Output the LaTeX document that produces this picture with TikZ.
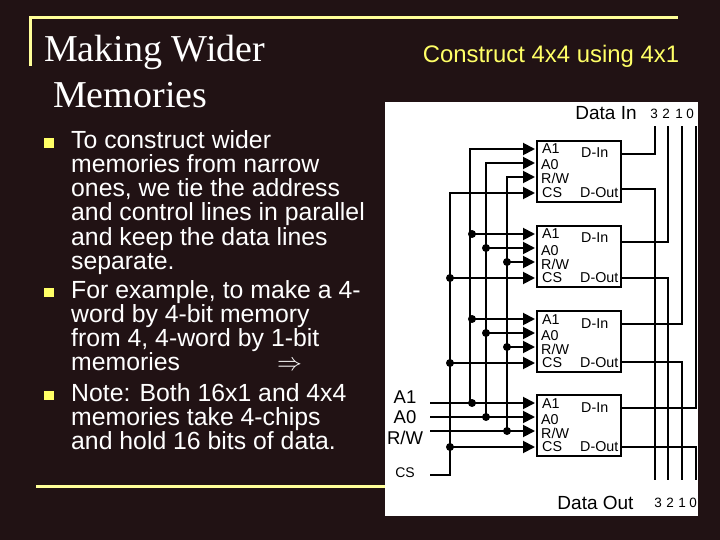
\documentclass[tikz,border=0pt]{standalone}
\usepackage{fontspec}
\usepackage{amsmath}
\usepackage{xcolor}
\setmainfont{Liberation Sans}
\newfontfamily\titlefont{Liberation Serif}
\usetikzlibrary{arrows.meta}

\definecolor{slidebg}{RGB}{33,18,20}
\definecolor{rulecol}{RGB}{255,255,153}
\definecolor{bulletcol}{RGB}{255,255,102}

\newcommand{\fsize}[1]{\fontsize{#1}{#1}\selectfont}

\tikzset{
    wire/.style={line width=1.9pt,black},
    pinwire/.style={wire,-{Triangle[length=12pt,width=12pt]},shorten >=1pt},
    chipbox/.style={draw=black,line width=2pt,fill=white,minimum width=84pt,minimum height=61pt,inner sep=0pt},
    pinlabel/.style={black,inner sep=0pt,anchor=base west,font=\fsize{14.3}},
    wiredot/.style={circle,fill=black,inner sep=0pt,minimum size=8pt},
    biglabel/.style={black,inner sep=0pt,anchor=base,font=\fsize{18.5}},
    bodytext/.style={white,inner sep=0pt,anchor=north west,align=left,font=\fontsize{24.8}{24.1}\selectfont},
    bulletbox/.style={fill=bulletcol,inner sep=0pt,minimum size=9.5pt},
}

\begin{document}
\begin{tikzpicture}[x=1pt,y=-1pt]

    \useasboundingbox (0,0) rectangle (720,540);
    \fill[slidebg] (0,0) rectangle (720,540);

    % slide frame
    \draw[rulecol,line width=3pt] (30,66) -- (30,18) -- (678,18);
    \draw[rulecol,line width=3pt] (36,486) -- (385,486);

    \node[white,inner sep=0pt,anchor=base west,font=\titlefont\fsize{38}] (title1) at (44,62) {Making Wider};
    \node[white,inner sep=0pt,anchor=base west,font=\titlefont\fsize{38}] (title2) at (53,108) {Memories};
    \node[bulletcol,inner sep=0pt,anchor=base,font=\fsize{23.9}] (heading) at (551,63) {Construct 4x4 using 4x1};

    \node[bulletbox] (bul1) at (49,143) {};
    \node[bulletbox] (bul2) at (49,292.5) {};
    \node[bulletbox] (bul3) at (49,395.5) {};
    \node[bodytext] (para1) at (71,130.5) {To construct wider\\memories from narrow\\ones, we tie the address\\and control lines in parallel\\and keep the data lines\\separate.};
    \node[bodytext] (para2) at (71,280) {For example, to make a 4-\\word by 4-bit memory\\from 4, 4-word by 1-bit\\memories\hspace{97pt}$\Rightarrow$};
    \node[bodytext] (para3) at (71,383) {Note: Both 16x1 and 4x4\\memories take 4-chips\\and hold 16 bits of data.};

    \fill[white] (385,102) rectangle (698,516);

    \node[black,inner sep=0pt,anchor=base,font=\fsize{19}] (datain) at (606,120) {Data In};
    \node[black,inner sep=0pt,anchor=base,font=\fsize{19}] (dataout) at (595.5,509) {Data Out};

    % address and control inputs
    \node[biglabel] (la1) at (405,403) {A1};
    \node[biglabel] (la0) at (405,423) {A0};
    \node[biglabel] (lrw) at (405,444) {R/W};
    \node[black,inner sep=0pt,anchor=base,font=\fsize{14}] (lcs) at (405,477) {CS};

    \coordinate (ina1) at (430,403);
    \coordinate (ina0) at (430,417);
    \coordinate (inrw) at (430,431);
    \coordinate (incs) at (430,475);
    \coordinate (busa1) at (470,0);
    \coordinate (busa0) at (486,0);
    \coordinate (busrw) at (507,0);
    \coordinate (buscs) at (450,0);

    % the four chips
    \foreach \i/\ty/\iny/\outy in {1/140/154/189,2/225/242/278,3/310/324/362,4/394/408/447} {
        \node[chipbox,anchor=north west] (chip\i) at (536,\ty) {};
        \node[pinlabel] (ta\i) at (542,\ty+14) {A1};
        \node[pinlabel] (tb\i) at (541,\ty+30) {A0};
        \node[pinlabel] (tr\i) at (541,\ty+44) {R/W};
        \node[pinlabel] (tc\i) at (542,\ty+57) {CS};
        \node[pinlabel] (ti\i) at (581,\ty+18) {D-In};
        \node[pinlabel] (to\i) at (580,\ty+57) {D-Out};
        \coordinate (pa\i) at (536,\ty+9);
        \coordinate (pb\i) at (536,\ty+23);
        \coordinate (pr\i) at (536,\ty+37);
        \coordinate (pc\i) at (536,\ty+53);
        \coordinate (din\i) at (620,\iny);
        \coordinate (dout\i) at (620,\outy);
    }

    % buses
    \draw[wire] (ina1) -- (pa4 -| busa1);
    \draw[pinwire] (ina1 -| busa1) |- (pa1);
    \draw[wire] (ina0) -- (pb4 -| busa0);
    \draw[pinwire] (ina0 -| busa0) |- (pb1);
    \draw[wire] (inrw) -- (pr4 -| busrw);
    \draw[pinwire] (inrw -| busrw) |- (pr1);
    \draw[pinwire] (incs) -| (buscs |- pc1) -- (pc1);

    \foreach \i in {2,3,4} {
        \draw[pinwire] (pa\i -| busa1) -- (pa\i);
        \draw[pinwire] (pb\i -| busa0) -- (pb\i);
        \draw[pinwire] (pr\i -| busrw) -- (pr\i);
        \draw[pinwire] (pc\i -| buscs) -- (pc\i);
        \node[wiredot] (da\i) at ([xshift=2pt]pa\i -| busa1) {};
        \node[wiredot] (db\i) at (pb\i -| busa0) {};
        \node[wiredot] (dr\i) at (pr\i -| busrw) {};
        \node[wiredot] (dc\i) at (pc\i -| buscs) {};
    }

    % data lines
    \foreach \i/\dx/\dgt/\tx/\bx in {1/655/3/654/658,2/668/2/666/670,3/682/1/679/682,4/696/0/690/693} {
        \coordinate (dtop\i) at (\dx,126);
        \coordinate (dbot\i) at (\dx,480);
        \draw[wire] (din\i) -| (dtop\i);
        \draw[wire] (dout\i) -| (dbot\i);
        \node[black,inner sep=0pt,font=\fsize{13.5}] (numi\i) at (\tx,114) {\dgt};
        \node[black,inner sep=0pt,font=\fsize{13.5}] (numo\i) at (\bx,503) {\dgt};
    }

\end{tikzpicture}
\end{document}
